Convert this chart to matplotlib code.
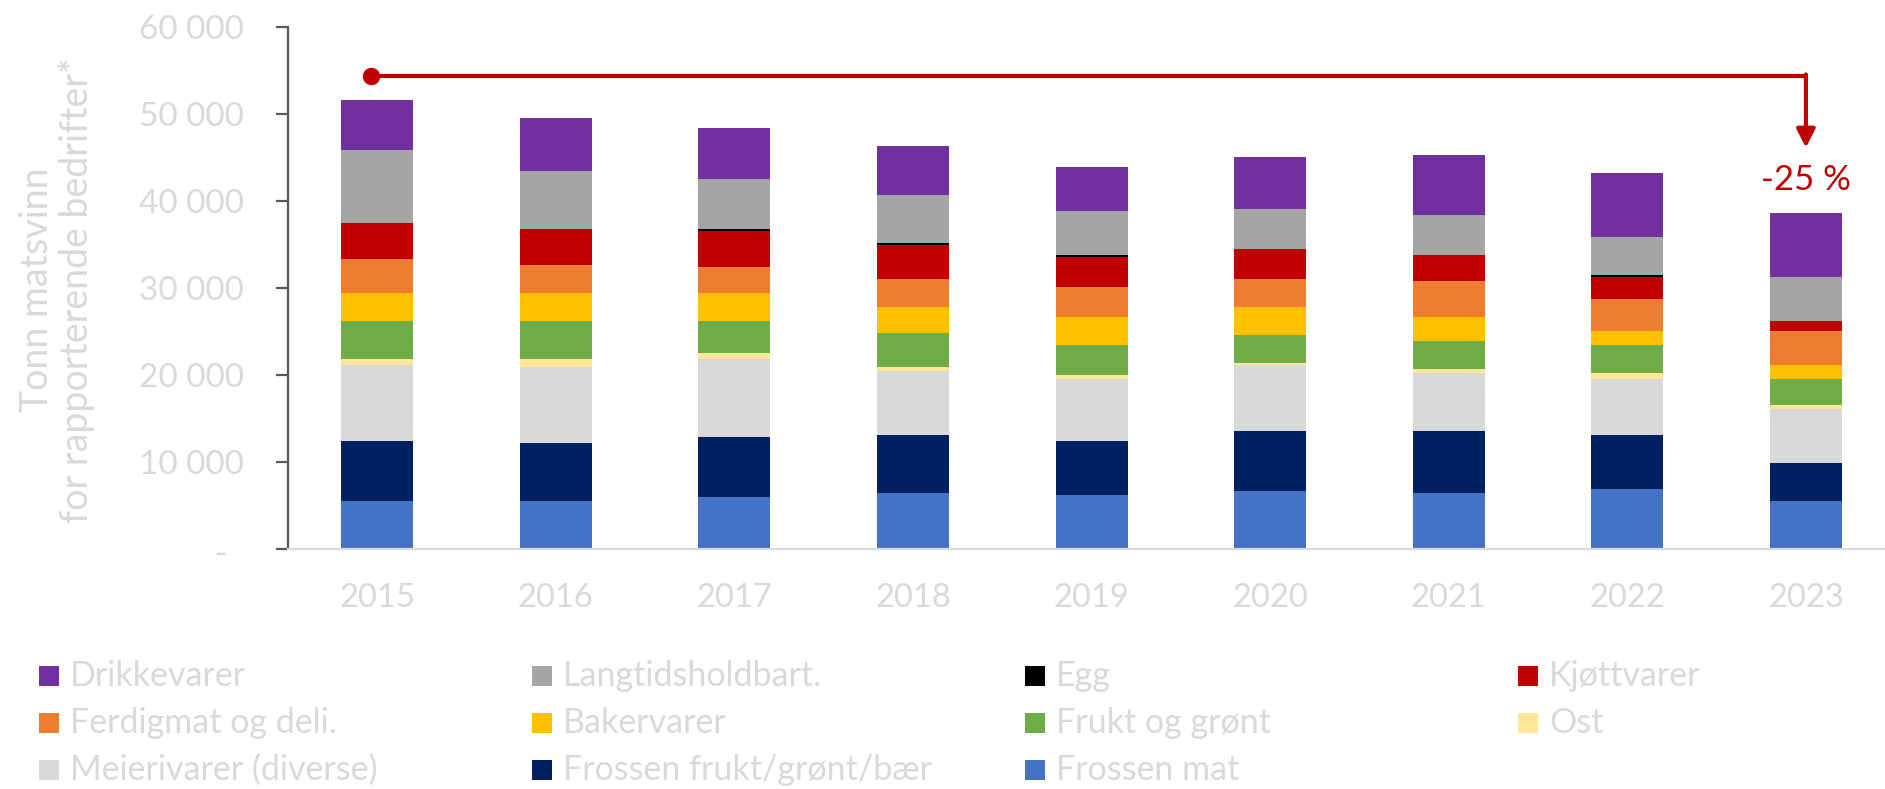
import matplotlib
matplotlib.use("Agg")
import matplotlib.pyplot as plt
import numpy as np
from matplotlib.transforms import ScaledTranslation
from matplotlib.patches import Rectangle

plt.rcParams['font.family'] = ['Lato', 'DejaVu Sans']

years = ["2015", "2016", "2017", "2018", "2019", "2020", "2021", "2022", "2023"]

# stacked from bottom to top
frossen_mat    = [5520, 5520, 5980, 6440, 6210, 6670, 6440, 6900, 5520]
frossen_frukt  = [6900, 6670, 6900, 6670, 6210, 6900, 7130, 6210, 4370]
meierivarer    = [8740, 8740, 8970, 7360, 7130, 7590, 6670, 6440, 6210]
ost            = [690, 920, 690, 460, 460, 230, 460, 690, 460]
frukt_gront    = [4370, 4370, 3680, 3910, 3450, 3220, 3220, 3220, 2990]
bakervarer     = [3220, 3220, 3220, 2990, 3220, 3220, 2760, 1610, 1610]
ferdigmat      = [3910, 3220, 2990, 3220, 3450, 3220, 4140, 3680, 3910]
kjottvarer     = [4140, 4140, 4140, 3910, 3450, 3450, 2990, 2530, 1150]
egg            = [0, 0, 230, 230, 230, 0, 0, 230, 0]
langtids       = [8280, 6670, 5750, 5520, 5060, 4600, 4600, 4370, 5060]
drikkevarer    = [5750, 5980, 5750, 5520, 5060, 5980, 6900, 7360, 7360]

series = [
    ("Frossen mat", frossen_mat, "#4472C4"),
    ("Frossen frukt/grønt/bær", frossen_frukt, "#002060"),
    ("Meierivarer (diverse)", meierivarer, "#D9D9D9"),
    ("Ost", ost, "#FFE699"),
    ("Frukt og grønt", frukt_gront, "#70AD47"),
    ("Bakervarer", bakervarer, "#FFC000"),
    ("Ferdigmat og deli.", ferdigmat, "#ED7D31"),
    ("Kjøttvarer", kjottvarer, "#C00000"),
    ("Egg", egg, "#000000"),
    ("Langtidsholdbart.", langtids, "#A5A5A5"),
    ("Drikkevarer", drikkevarer, "#7030A0"),
]
colors = {n: c for n, _, c in series}

legend_rows = [
    ["Drikkevarer", "Langtidsholdbart.", "Egg", "Kjøttvarer"],
    ["Ferdigmat og deli.", "Bakervarer", "Frukt og grønt", "Ost"],
    ["Meierivarer (diverse)", "Frossen frukt/grønt/bær", "Frossen mat"],
]

change_label = "-25 %"
ylabel = "Tonn matsvinn\nfor rapporterende bedrifter*"

W, H = 1885, 789
fig = plt.figure(figsize=(W / 100, H / 100), dpi=100)
ax = fig.add_axes([288 / W, 1 - 549 / H, (W - 288) / W, (549 - 26.6) / H])

x = np.arange(len(years))
bottom = np.zeros(len(years))
for name, vals, col in series:
    v = np.array(vals, dtype=float)
    ax.bar(x, v, 0.403, bottom=bottom, color=col, linewidth=0, zorder=2)
    bottom += v

ax.set_xlim(-0.5, 8.443)
ax.set_ylim(0, 60000)
ax.set_yticks(np.arange(0, 60001, 10000))
ax.set_yticklabels(["-" if t == 0 else f"{int(t):,}".replace(",", " ") for t in np.arange(0, 60001, 10000)])
ax.set_xticks(x)
ax.set_xticklabels(years)

for s in ["top", "right"]:
    ax.spines[s].set_visible(False)
ax.spines["left"].set_color("#595959")
ax.spines["left"].set_linewidth(1.6)
ax.spines["bottom"].set_color("#D9D9D9")
ax.spines["bottom"].set_linewidth(1.6)

ax.tick_params(axis="y", direction="out", length=8.6, width=1.6, color="#595959",
               labelcolor="#D9D9D9", labelsize=24, pad=23)
ax.tick_params(axis="x", length=0, labelcolor="#D9D9D9", labelsize=23.5, pad=24.5)

# shift the "-" label left
lbl0 = ax.yaxis.get_major_ticks()[0].label1
lbl0.set_transform(lbl0.get_transform() + ScaledTranslation(-0.17, -0.03, fig.dpi_scale_trans))

fig.text(57 / W, 1 - 290 / H, ylabel, rotation=90, ha="center", va="center",
         multialignment="center", color="#D9D9D9", fontsize=27, linespacing=1.1)

# change annotation
line_y = 54300
red = "#C00000"
ax.plot([-0.035, 8], [line_y, line_y], color=red, lw=3, solid_capstyle="butt", zorder=3, clip_on=False)
ax.plot([-0.035], [line_y], "o", color=red, ms=11.5, zorder=4, clip_on=False)
ax.annotate("", xy=(8, 46100), xytext=(8, line_y + 200),
            arrowprops=dict(arrowstyle="-|>,head_length=0.55,head_width=0.28",
                            color=red, lw=3, mutation_scale=20, shrinkA=0, shrinkB=0),
            zorder=4, annotation_clip=False)
ax.text(8, 42400, change_label, ha="center", va="center", color=red, fontsize=25)

# legend
col_x = [39, 532, 1025, 1518]
row_y = [676, 723, 770]
for r, row in enumerate(legend_rows):
    for c, name in enumerate(row):
        x0 = col_x[c]
        yc = row_y[r]
        fig.patches.append(Rectangle((x0 / W, 1 - (yc + 10) / H), 20 / W, 20 / H,
                                     transform=fig.transFigure, color=colors[name], lw=0))
        fig.text((x0 + 31) / W, 1 - yc / H, name, ha="left", va="center",
                 color="#D9D9D9", fontsize=24.5)

fig.savefig("out.png", dpi=100)
